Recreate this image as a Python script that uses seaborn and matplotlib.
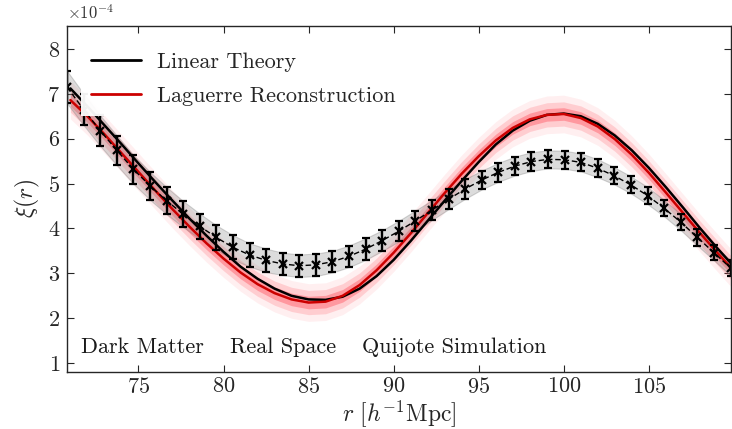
import numpy as np
import matplotlib
matplotlib.use("Agg")
import matplotlib.pyplot as plt
import seaborn as sns
import pandas as pd

# ---- data (xi in units of 1e-4) ----
r_sim = [70.80, 71.78, 72.75, 73.73, 74.70, 75.68, 76.65, 77.63, 78.60, 79.58,
         80.55, 81.53, 82.50, 83.48, 84.45, 85.43, 86.40, 87.38, 88.35, 89.33,
         90.30, 91.28, 92.25, 93.23, 94.20, 95.18, 96.15, 97.13, 98.10, 99.08,
         100.05, 101.03, 102.00, 102.98, 103.95, 104.93, 105.90, 106.88, 107.85, 108.83, 109.80]
xi_sim = [7.15, 6.65, 6.18, 5.74, 5.32, 4.95, 4.62, 4.32, 4.05, 3.80,
          3.58, 3.41, 3.29, 3.21, 3.17, 3.19, 3.26, 3.38, 3.54, 3.73,
          3.94, 4.17, 4.41, 4.65, 4.88, 5.08, 5.25, 5.39, 5.49, 5.54,
          5.53, 5.47, 5.34, 5.17, 4.97, 4.73, 4.45, 4.14, 3.80, 3.46, 3.12]
err_sim = [0.36, 0.35, 0.34, 0.33, 0.32, 0.31, 0.30, 0.29, 0.28, 0.27,
           0.27, 0.26, 0.26, 0.25, 0.25, 0.25, 0.24, 0.24, 0.24, 0.23,
           0.23, 0.23, 0.22, 0.22, 0.22, 0.21, 0.21, 0.21, 0.21, 0.20,
           0.20, 0.20, 0.20, 0.19, 0.19, 0.19, 0.18, 0.18, 0.18, 0.17, 0.17]

r_model = [71, 72, 73, 74, 75, 76, 77, 78, 79, 80, 81, 82, 83, 84, 85, 86, 87, 88, 89, 90,
           91, 92, 93, 94, 95, 96, 97, 98, 99, 100, 101, 102, 103, 104, 105, 106, 107, 108, 109, 110]
xi_linear = [7.12, 6.72, 6.30, 5.88, 5.45, 5.03, 4.62, 4.22, 3.84, 3.48,
             3.15, 2.88, 2.66, 2.50, 2.42, 2.41, 2.48, 2.66, 2.94, 3.30,
             3.72, 4.17, 4.62, 5.06, 5.48, 5.87, 6.18, 6.40, 6.53, 6.56,
             6.50, 6.33, 6.07, 5.74, 5.35, 4.92, 4.47, 4.01, 3.57, 3.15]
xi_laguerre = [6.86, 6.50, 6.10, 5.68, 5.26, 4.84, 4.43, 4.04, 3.67, 3.33,
               3.02, 2.76, 2.56, 2.42, 2.35, 2.37, 2.50, 2.74, 3.07, 3.46,
               3.89, 4.34, 4.79, 5.22, 5.61, 5.96, 6.24, 6.43, 6.53, 6.55,
               6.46, 6.27, 5.99, 5.64, 5.24, 4.80, 4.35, 3.90, 3.47, 3.05]
band_widths = [0.42, 0.27, 0.14]      # pink uncertainty bands (outer -> inner)
band_alphas = [0.07, 0.17, 0.32]

annotations = ["Dark Matter", "Real Space", "Quijote Simulation"]
annot_r = [71.6, 80.4, 88.15]

xlim = (70.8, 109.8)
ylim = (0.81, 8.51)

sns.set_style("ticks")
plt.rcParams["font.family"] = ["cmr10", "DejaVu Serif"]
plt.rcParams["mathtext.fontset"] = "cm"
plt.rcParams["axes.formatter.use_mathtext"] = True

fig = plt.figure(figsize=(7.32, 4.29), dpi=100)
ax = fig.add_axes([0.0915, 0.1336, 0.9065, 0.8058])

rm = np.array(r_model, dtype=float)
lag = np.array(xi_laguerre)
for w, a in zip(band_widths, band_alphas):
    ax.fill_between(rm, lag - w, lag + w, color="#ff2838", alpha=a, lw=0)

rs = np.array(r_sim)
xs = np.array(xi_sim)
es = np.array(err_sim)
ax.fill_between(rs, xs - es, xs + es, color="0.55", alpha=0.3, lw=0.8, edgecolor="0.45")

df = pd.DataFrame({"r": r_model, "lin": xi_linear, "lag": xi_laguerre})
sns.lineplot(data=df, x="r", y="lin", ax=ax, color="black", lw=1.8, label="Linear Theory")
sns.lineplot(data=df, x="r", y="lag", ax=ax, color="#cc0000", lw=1.8, label="Laguerre Reconstruction")

ax.errorbar(rs, xs, yerr=es, fmt="x--", color="black", ms=6, mew=1.6, lw=1.0,
            elinewidth=1.7, capsize=3, capthick=1.3, dashes=(4, 2))

ax.set_xlim(*xlim)
ax.set_ylim(*ylim)
ax.set_xticks([75, 80, 85, 90, 95, 100, 105])
ax.set_yticks([1, 2, 3, 4, 5, 6, 7, 8])
ax.tick_params(direction="in", top=True, right=True, length=5, width=0.8,
               labelsize=16, colors="0.15")
ax.tick_params(axis="y", pad=5)
for s in ax.spines.values():
    s.set_linewidth(1.0)
    s.set_color("0.15")

ax.set_xlabel(r"$r\ [h^{-1}\mathrm{Mpc}]$", fontsize=17, labelpad=1)
ax.set_ylabel(r"$\xi(r)$", fontsize=17, labelpad=4)
ax.text(0.0, 1.012, r"$\times10^{-4}$", transform=ax.transAxes, fontsize=12,
        ha="left", va="bottom", color="0.2")

for txt, rx in zip(annotations, annot_r):
    ax.text(rx, 1.35, txt, fontsize=16, va="center", color="0.1")

leg = ax.legend(loc="upper left", bbox_to_anchor=(0.004, 0.985), fontsize=16,
                handlelength=2.25, handletextpad=0.75, labelspacing=0.65,
                frameon=True, fancybox=False, framealpha=0.95, edgecolor="none",
                facecolor="white", borderpad=0.45)
for line in leg.get_lines():
    line.set_linewidth(2.0)

fig.savefig("out.png", dpi=100)
